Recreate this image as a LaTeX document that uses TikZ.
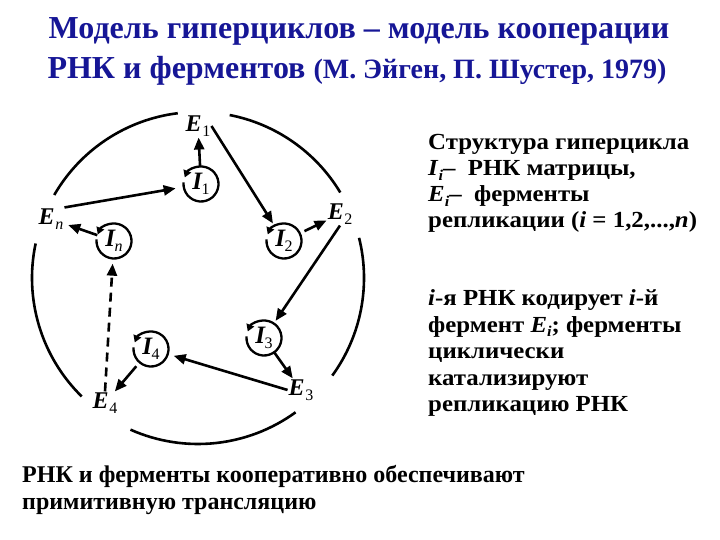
\documentclass[tikz,border=0pt]{standalone}
\usepackage{fontspec}
\setmainfont{Liberation Serif}
\newfontfamily\rfont[FakeStretch=1.08]{Liberation Serif}
\usetikzlibrary{arrows.meta}
\definecolor{titleblue}{RGB}{22,22,150}
\newcommand\Ilab[1]{\textbf{\textit{I}}\kern-1pt\raisebox{-0.45ex}{\fontsize{16}{16}\selectfont #1}}
\newcommand\Elab[1]{\textbf{\textit{E}}\kern0.5pt\raisebox{-0.45ex}{\fontsize{16}{16}\selectfont #1}}
\newcommand\subi{\raisebox{-0.4ex}{\fontsize{15}{15}\selectfont\textit{i}}}
\begin{document}
\begin{tikzpicture}[x=1pt,y=1pt,
  arr/.style={line width=2.6pt, -{Triangle[length=12pt,width=10pt]}},
  ring/.style={line width=2.6pt},
  inode/.style={circle, minimum size=35pt, inner sep=0pt, font=\fontsize{25}{25}\selectfont},
  enode/.style={inner sep=1pt, font=\fontsize{24}{24}\selectfont},
  cyc/.style={line width=2.3pt, -{Triangle[length=7pt,width=8pt]}},
  title/.style={inner sep=0pt, text=titleblue, font=\fontsize{32}{32}\selectfont\bfseries},
  rtext/.style={anchor=base west, inner sep=0pt, font=\rfont\fontsize{23}{23}\selectfont\bfseries},
  btext/.style={anchor=base west, inner sep=0pt, font=\fontsize{24}{24}\selectfont\bfseries},
]
\useasboundingbox (0,0) rectangle (720,540);
% title
\node[title] (t1) at (359,509) {Модель гиперциклов – модель кооперации};
\node[title] (t2) at (357,469) {РНК и ферментов {\fontsize{28}{28}\selectfont (М. Эйген, П. Шустер, 1979)}};
% big ring
\coordinate (C) at (198,262);
\draw[ring] (C) ++(97:166) arc[start angle=97, end angle=150, radius=166];
\draw[ring] (C) ++(31:166) arc[start angle=31, end angle=79, radius=166];
\draw[ring] (C) ++(-36:166) arc[start angle=-36, end angle=14, radius=166];
\draw[ring] (C) ++(-114:166) arc[start angle=-114, end angle=-54, radius=166];
\draw[ring] (C) ++(168:166) arc[start angle=168, end angle=225.5, radius=166];
% E nodes
\node[enode] (E1) at (198,414) {\Elab{1}};
\node[enode] (E2) at (340,326) {\Elab{2}};
\node[enode] (En) at (51,321) {\Elab{\textit{n}}};
\node[enode] (E3) at (301,150) {\Elab{3}};
\node[enode] (E4) at (105,137) {\Elab{4}};
% I nodes
\node[inode] (I1) at (201,356) {\Ilab{1}};
\node[inode] (I2) at (284,299) {\Ilab{2}};
\node[inode] (In) at (114,299) {\Ilab{\textit{n}}};
\node[inode] (I3) at (264,202) {\Ilab{3}};
\node[inode] (I4) at (151,191) {\Ilab{4}};
\foreach \n in {I1,I2,In,I3,I4}{
  \draw[cyc] (\n.center) ++(175:17.5) arc[start angle=175, end angle=518, radius=17.5];
}
% arrows
\draw[arr] (I1) -- (E1);
\draw[arr, shorten >=3pt] (E1.east) -- (I2);
\draw[arr, shorten >=8pt] (En.north east) -- (I1);
\draw[arr, shorten >=4pt] (In) -- (En);
\draw[arr, shorten <=5pt] (I2) -- (E2);
\draw[arr, shorten >=3pt] (E2.south) -- (I3);
\draw[arr] (I3) -- (E3);
\draw[arr, shorten >=6pt] (E3.west) -- (I4);
\draw[arr, shorten <=5pt] (I4) -- (E4);
\draw[arr, dashed, dash pattern=on 9pt off 6pt, shorten >=5pt] (E4.north) -- (In);
% right text
\node[rtext] (r1) at (428,390) {Структура гиперцикла};
\node[rtext] (r2) at (428,364) {\textit{I}\subi– \ РНК матрицы,};
\node[rtext] (r3) at (428,338) {\textit{E}\subi– \ ферменты};
\node[rtext] (r4) at (428,312) {репликации (\textit{i} = 1,2,...,\textit{n})};
\node[rtext] (r5) at (428,234) {\textit{i}-я РНК кодирует \textit{i}-й};
\node[rtext] (r6) at (428,207.6) {фермент \textit{E}\subi; ферменты};
\node[rtext] (r7) at (428,181.2) {циклически};
\node[rtext] (r8) at (428,154.8) {катализируют};
\node[rtext] (r9) at (428,128.4) {репликацию РНК};
% bottom text
\node[btext] (b1) at (22,57) {РНК и ферменты кооперативно обеспечивают};
\node[btext] (b2) at (22,30) {примитивную трансляцию};
\end{tikzpicture}
\end{document}
